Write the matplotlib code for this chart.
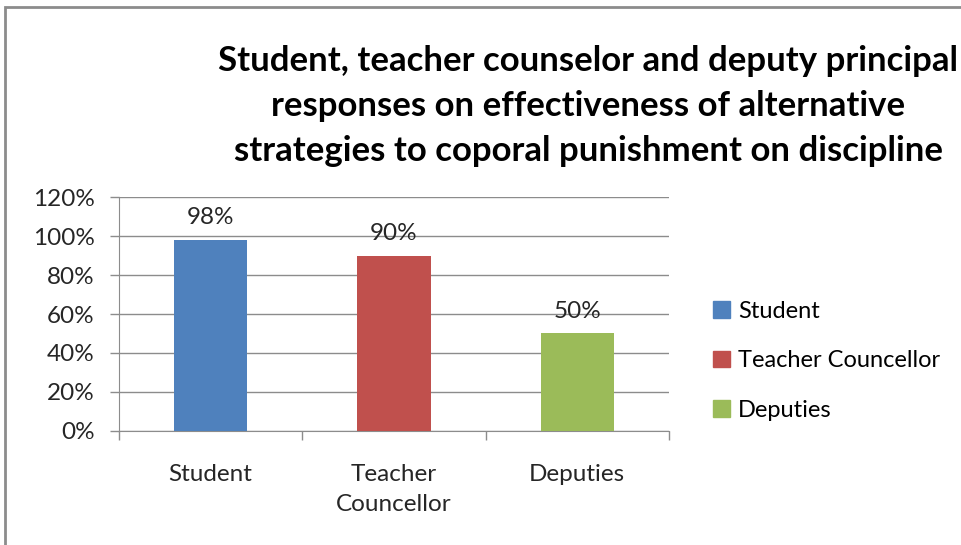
import matplotlib
matplotlib.use('Agg')
import matplotlib.pyplot as plt
from matplotlib.patches import Rectangle

# Data
categories = ['Student', 'Teacher\nCouncellor', 'Deputies']
legend_names = ['Student', 'Teacher Councellor', 'Deputies']
values = [0.98, 0.90, 0.50]
colors = ['#4f81bd', '#c0504d', '#9bbb59']
yticks = [0, 0.2, 0.4, 0.6, 0.8, 1.0, 1.2]

plt.rcParams['font.family'] = 'Lato'

fig = plt.figure(figsize=(9.61, 5.45), dpi=100)
ax = fig.add_axes([0.1238, 0.2092, 0.5722, 0.4293])

x = range(len(values))
bars = ax.bar(x, values, width=0.4, color=colors, zorder=3)

for i, v in enumerate(values):
    ax.text(i, v + 0.115, f'{v:.0%}', ha='center', va='center', fontsize=17.5, color='#262626')

ax.set_xlim(-0.5, len(values) - 0.5)
ax.set_ylim(0, 1.2)
ax.set_yticks(yticks)
ax.set_yticklabels([f'{t:.0%}' for t in yticks], fontsize=17.5, color='#262626')
ax.set_xticks([i - 0.5 for i in range(len(values) + 1)], minor=False)
ax.set_xticklabels([])
ax.set_xticks(list(x), minor=True)
ax.set_xticklabels(categories, minor=True, fontsize=17.5, color='#262626', linespacing=1.5)
ax.tick_params(axis='x', which='minor', length=0, pad=24)
ax.tick_params(axis='x', which='major', length=6.5, color='#8c8c8c', width=1)
ax.tick_params(axis='y', length=6.5, color='#8c8c8c', width=1, pad=11)

ax.yaxis.grid(True, color='#8c8c8c', linewidth=1, zorder=0)
for s in ['top', 'right']:
    ax.spines[s].set_visible(False)
ax.spines['left'].set_color('#8c8c8c')
ax.spines['bottom'].set_color('#8c8c8c')

handles = [Rectangle((0, 0), 1, 1, color=c) for c in colors]
fig.legend(handles, legend_names, loc='center left', bbox_to_anchor=(0.72, 0.338),
           frameon=False, fontsize=17, handlelength=0.7, handleheight=0.7,
           handletextpad=0.35, labelspacing=1.2)

fig.text(0.612, 0.805,
         'Student, teacher counselor and deputy principal\n'
         'responses on effectiveness of alternative\n'
         'strategies to coporal punishment on discipline',
         ha='center', va='center', fontsize=25, fontweight='bold', linespacing=1.5)

# chart border (cropped at right and bottom)
fig.patches.append(Rectangle((5 / 961, -0.1), 1.2, 1 - 7 / 545 + 0.1, transform=fig.transFigure,
                             fill=False, edgecolor='#8c8c8c', linewidth=2))

fig.savefig('out.png', dpi=100)
